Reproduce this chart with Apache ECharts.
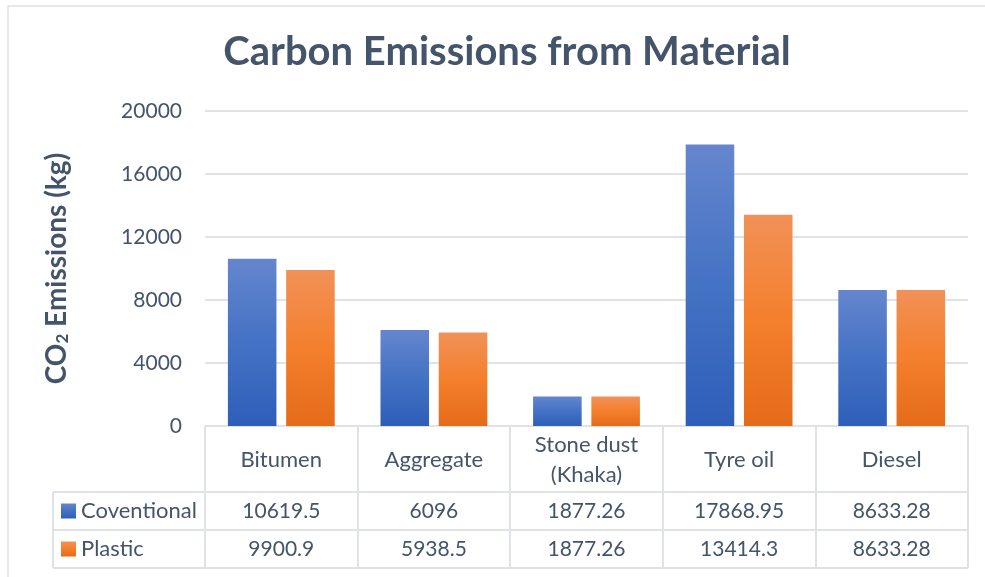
<!DOCTYPE html>
<html>
<head>
<meta charset="utf-8">
<script src="https://cdn.jsdelivr.net/npm/echarts@6/dist/echarts.min.js"></script>
<style>
  html, body { margin: 0; padding: 0; background: #fff; }
  #chart { width: 985px; height: 577px; }
</style>
</head>
<body>
<div id="chart"></div>
<script>
// Materials and their CO2 emissions (kg) for the two mixes
const categories = ['Bitumen', 'Aggregate', 'Stone dust (Khaka)', 'Tyre oil', 'Diesel'];
const conventional = [10619.5, 6096, 1877.26, 17868.95, 8633.28];
const plastic = [9900.9, 5938.5, 1877.26, 13414.3, 8633.28];
const seriesNames = ['Coventional', 'Plastic'];

const FONT = 'Lato, "Open Sans", sans-serif';
const TEXT = '#44546A';
const LINE = '#DFE3E8';

// plot frame (px)
const G = { left: 205, right: 17, top: 111, bottom: 151 };
const W = 985, H = 577;
const axisY = H - G.bottom;          // 426
const rowH = [66, 38, 38];           // header, row 1, row 2
const tableLeft = 53;
const tableRight = W - G.right;

function grad(top, mid, bottom) {
  return new echarts.graphic.LinearGradient(0, 0, 0, 1, [
    { offset: 0, color: top },
    { offset: 0.5, color: mid },
    { offset: 1, color: bottom }
  ]);
}
const blue = grad('#6586CE', '#4472C4', '#2E5EB9');
const orange = grad('#F19158', '#F47F2C', '#E46B19');

const chart = echarts.init(document.getElementById('chart'), null, { renderer: 'canvas' });

const r1 = axisY + rowH[0];
const r2 = r1 + rowH[1];
const r3 = r2 + rowH[2];

function rowAxis(values, margin) {
  return {
    type: 'category', data: categories, position: 'bottom', gridIndex: 0,
    axisLine: { show: false }, axisTick: { show: false },
    axisLabel: {
      interval: 0, margin: margin, verticalAlign: 'middle',
      color: TEXT, fontFamily: FONT, fontSize: 21,
      formatter: (v, i) => String(values[i])
    }
  };
}

function legendRow(name, rowTop, rowHeight) {
  return {
    data: [name], orient: 'vertical', left: 61, top: rowTop + rowHeight / 2 - 12,
    padding: 0, icon: 'rect', itemWidth: 15, itemHeight: 15,
    textStyle: { color: TEXT, fontFamily: FONT, fontSize: 22, lineHeight: 24 }
  };
}

chart.setOption({
  animation: false,
  title: {
    text: 'Carbon Emissions from Material',
    left: 502, top: 27, textAlign: 'center',
    textStyle: { color: TEXT, fontFamily: FONT, fontWeight: 'bold', fontSize: 40 }
  },
  legend: [
    legendRow(seriesNames[0], r1, rowH[1]),
    legendRow(seriesNames[1], r2, rowH[2])
  ],
  grid: { left: G.left, right: G.right, top: G.top, bottom: G.bottom, containLabel: false },
  xAxis: [
    {
      type: 'category', data: categories, position: 'bottom',
      axisLine: { show: true, lineStyle: { color: LINE, width: 2 } },
      axisTick: { show: true, length: r3 - axisY, interval: 0, lineStyle: { color: LINE, width: 2 } },
      axisLabel: {
        interval: 0, margin: rowH[0] / 2 + 1, verticalAlign: 'middle', align: 'center',
        color: TEXT, fontFamily: FONT, fontSize: 22, lineHeight: 30,
        formatter: v => v.replace(' (', '\n(')
      }
    },
    rowAxis(conventional, rowH[0] + rowH[1] / 2),
    rowAxis(plastic, rowH[0] + rowH[1] + rowH[2] / 2)
  ],
  yAxis: {
    type: 'value', min: 0, max: 20000, interval: 4000,
    name: '{a|CO}{s|2}{a| Emissions (kg)}',
    nameLocation: 'middle', nameGap: 134, nameRotate: 90,
    nameTextStyle: {
      rich: {
        a: { color: TEXT, fontFamily: FONT, fontWeight: 'bold', fontSize: 28 },
        s: { color: TEXT, fontFamily: FONT, fontWeight: 'bold', fontSize: 17, padding: [12, 0, 0, 0] }
      }
    },
    axisLine: { show: false }, axisTick: { show: false },
    axisLabel: { color: TEXT, fontFamily: FONT, fontSize: 21, margin: 23, formatter: v => String(v) },
    splitLine: { lineStyle: { color: LINE, width: 2 } }
  },
  series: [
    {
      name: seriesNames[0], type: 'bar', data: conventional, xAxisIndex: 0,
      barCategoryGap: '30%', barGap: '20%',
      itemStyle: { color: blue }
    },
    {
      name: seriesNames[1], type: 'bar', data: plastic, xAxisIndex: 0,
      barCategoryGap: '30%', barGap: '20%',
      itemStyle: { color: orange }
    }
  ],
  graphic: [
    // outer chart frame
    { type: 'rect', silent: true, shape: { x: 8, y: 6, width: 1100, height: 700 },
      style: { fill: null, stroke: '#DDE2E8', lineWidth: 1.5 } },
    // data table rows
    { type: 'line', silent: true, shape: { x1: tableLeft, y1: r1, x2: tableRight, y2: r1 }, style: { stroke: LINE, lineWidth: 2 } },
    { type: 'line', silent: true, shape: { x1: tableLeft, y1: r2, x2: tableRight, y2: r2 }, style: { stroke: LINE, lineWidth: 2 } },
    { type: 'line', silent: true, shape: { x1: tableLeft, y1: r3, x2: tableRight, y2: r3 }, style: { stroke: LINE, lineWidth: 2 } },
    { type: 'line', silent: true, shape: { x1: tableLeft, y1: r1, x2: tableLeft, y2: r3 }, style: { stroke: LINE, lineWidth: 2 } }
  ]
});
</script>
</body>
</html>
